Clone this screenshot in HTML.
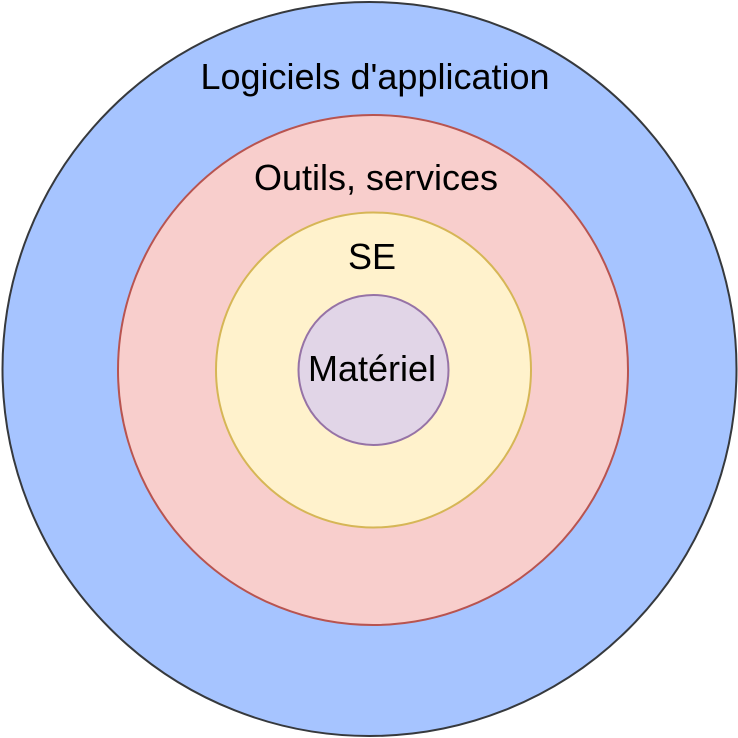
<!DOCTYPE html>
<html><head><meta charset="utf-8"><style>
html,body{margin:0;padding:0;background:#fff;width:738px;height:738px;overflow:hidden}
</style></head><body>
<svg width="738" height="738" viewBox="0 0 738 738" xmlns="http://www.w3.org/2000/svg" font-family="Liberation Sans, Arial, sans-serif" font-size="36" text-anchor="middle">
<circle cx="369.5" cy="369" r="367" fill="#a6c4ff" stroke="#36393d" stroke-width="2"/>
<circle cx="373" cy="370" r="255" fill="#f8cecc" stroke="#b85450" stroke-width="2"/>
<circle cx="373.5" cy="370" r="157.5" fill="#fff2cc" stroke="#d6b656" stroke-width="2"/>
<circle cx="373.5" cy="370" r="75" fill="#e1d5e7" stroke="#9673a6" stroke-width="2"/>
<text x="375" y="89">Logiciels d'application</text>
<text x="376" y="190">Outils, services</text>
<text x="372" y="269">SE</text>
<text x="372" y="381">Matériel</text>
</svg>
</body></html>
